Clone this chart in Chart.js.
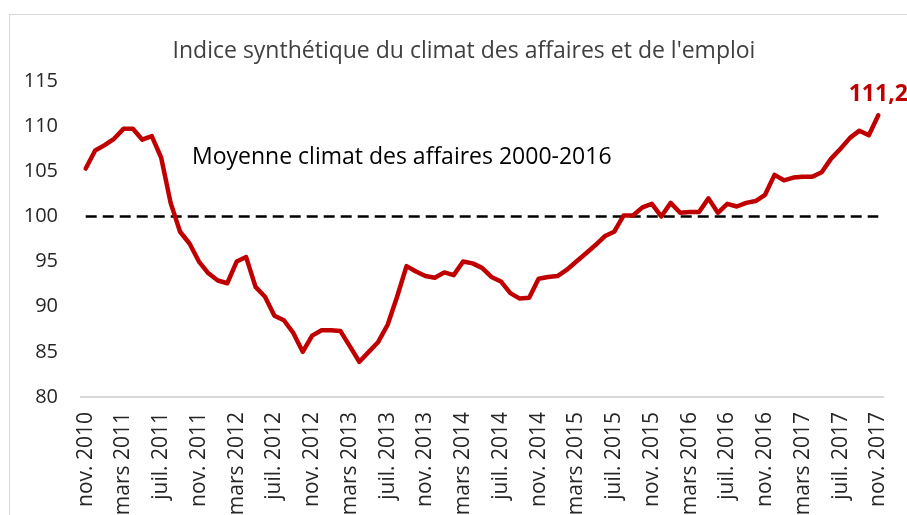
<!DOCTYPE html>
<html>
<head>
<meta charset="utf-8">
<script src="https://cdn.jsdelivr.net/npm/chart.js@4"></script>
<style>
  body { margin: 0; background: #fff; }
  canvas { display: block; }
</style>
</head>
<body>
<canvas id="climatChart" width="907" height="515"></canvas>
<script>
const moisCourts = ['janv.', 'févr.', 'mars', 'avr.', 'mai', 'juin', 'juil.', 'août', 'sept.', 'oct.', 'nov.', 'déc.'];

// nov. 2010 -> nov. 2017, un point par mois
const categories = [];
for (let i = 0; i < 85; i++) {
  const m = (10 + i) % 12;
  const an = 2010 + Math.floor((10 + i) / 12);
  categories.push(moisCourts[m] + ' ' + an);
}

const indiceClimat = [
  105.3, 107.3, 107.9, 108.6, 109.7, 109.7, 108.5, 108.9, 106.5, 101.5,
  98.3, 97.0, 95.0, 93.7, 92.9, 92.6, 95.0, 95.5, 92.2, 91.1,
  89.0, 88.5, 87.1, 85.0, 86.8, 87.4, 87.4, 87.3, 85.6, 83.9,
  85.0, 86.1, 88.0, 91.1, 94.5, 93.9, 93.4, 93.2, 93.8, 93.5,
  95.0, 94.8, 94.3, 93.3, 92.8, 91.5, 90.9, 91.0, 93.1, 93.3,
  93.4, 94.1, 95.0, 95.9, 96.8, 97.8, 98.3, 100.1, 100.1, 101.0,
  101.4, 100.0, 101.5, 100.4, 100.5, 100.5, 102.0, 100.4, 101.4, 101.1,
  101.5, 101.7, 102.4, 104.6, 104.0, 104.3, 104.4, 104.4, 104.9, 106.4,
  107.5, 108.7, 109.5, 109.0, 111.2
];

const moyenne = 100;
const moyenneLabel = 'Moyenne climat des affaires 2000-2016';
const derniereValeur = '111,2';

const ctx = document.getElementById('climatChart').getContext('2d');

const decor = {
  id: 'decor',
  beforeDraw(chart) {
    const c = chart.ctx;
    c.save();
    c.strokeStyle = '#d9d9d9';
    c.lineWidth = 1;
    c.strokeRect(9.5, 14.5, 920, 520);
    c.fillStyle = '#404040';
    c.font = '23px "Open Sans"';
    c.textAlign = 'center';
    c.textBaseline = 'alphabetic';
    c.fillText('Indice synthétique du climat des affaires et de l\'emploi', 464, 58);
    c.restore();
  },
  beforeDatasetsDraw(chart) {
    const c = chart.ctx;
    const meta = chart.getDatasetMeta(0);
    const x0 = meta.data[0].x;
    const x1 = meta.data[meta.data.length - 1].x;
    const y = chart.scales.y.getPixelForValue(moyenne);
    c.save();
    c.strokeStyle = '#000';
    c.lineWidth = 2.5;
    c.setLineDash([11, 6]);
    c.beginPath();
    c.moveTo(x0, y);
    c.lineTo(x1, y);
    c.stroke();
    c.restore();
  },
  afterDatasetsDraw(chart) {
    const c = chart.ctx;
    const meta = chart.getDatasetMeta(0);
    const last = meta.data[meta.data.length - 1];
    c.save();
    c.fillStyle = '#000';
    c.font = '23px "Open Sans"';
    c.textAlign = 'left';
    c.textBaseline = 'alphabetic';
    c.fillText(moyenneLabel, 192, 164);
    c.fillStyle = '#c00000';
    c.font = 'bold 23px "Open Sans"';
    c.textAlign = 'center';
    c.fillText(derniereValeur, last.x, last.y - 14);
    c.restore();
  }
};

new Chart(ctx, {
  type: 'line',
  data: {
    labels: categories,
    datasets: [{
      data: indiceClimat,
      borderColor: '#c00000',
      borderWidth: 4.5,
      borderJoinStyle: 'round',
      borderCapStyle: 'round',
      pointRadius: 0,
      tension: 0,
      fill: false
    }]
  },
  options: {
    responsive: false,
    animation: false,
    layout: { padding: { top: 81, right: 24, bottom: 0, left: 0 } },
    plugins: {
      legend: { display: false },
      tooltip: { enabled: false }
    },
    scales: {
      x: {
        offset: true,
        grid: { display: false, drawTicks: false, tickLength: 0 },
        border: { display: true, color: '#d9d9d9', width: 2 },
        ticks: {
          autoSkip: false,
          maxRotation: 90,
          minRotation: 90,
          padding: 15,
          color: '#262626',
          font: { family: 'Open Sans', size: 21 },
          callback: function (val, index) {
            return index % 4 === 0 ? this.getLabelForValue(val) : '';
          }
        },
        afterFit(scale) {
          scale.height = 118;
          scale.paddingLeft = 0;
          scale.paddingRight = 0;
        }
      },
      y: {
        min: 80,
        max: 115,
        grid: { display: false, drawTicks: false, tickLength: 0 },
        border: { display: false },
        ticks: {
          stepSize: 5,
          padding: 23,
          color: '#262626',
          font: { family: 'Open Sans', size: 20 }
        },
        afterFit(scale) { scale.width = 81; }
      }
    }
  },
  plugins: [decor]
});
</script>
</body>
</html>
